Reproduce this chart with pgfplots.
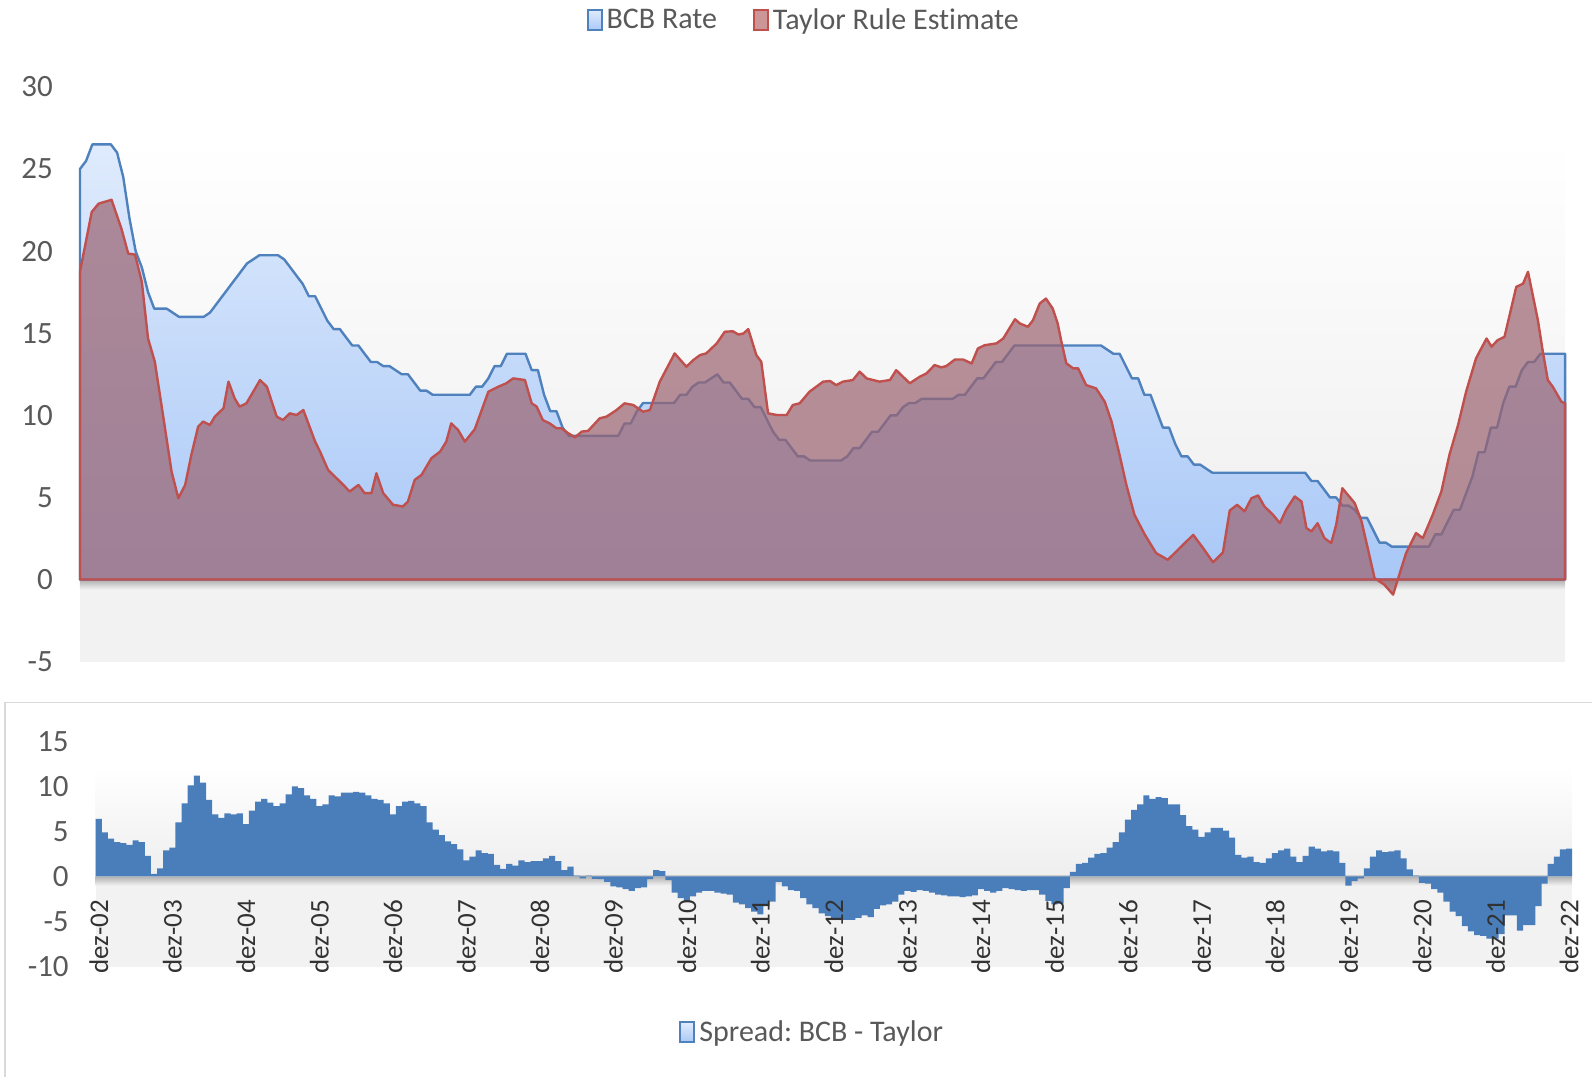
\documentclass[border=0pt]{standalone}
\usepackage{fontspec}
\setmainfont{Carlito}[Ligatures=CommonOff]
\usepackage{pgfplots}
\pgfplotsset{compat=1.18}
\usepgfplotslibrary{fillbetween}
\usepackage{pgfplotstable}
\frenchspacing

\definecolor{blueLine}{RGB}{79,129,189}
\definecolor{redLine}{RGB}{192,80,77}
\definecolor{blueTop}{RGB}{223,235,253}
\definecolor{blueBot}{RGB}{169,200,247}
\definecolor{purp}{RGB}{155,98,111}
\definecolor{brownR}{RGB}{177,123,117}
\definecolor{barBlue}{RGB}{74,126,187}
\definecolor{txt}{RGB}{89,89,89}
\definecolor{txtx}{RGB}{50,50,50}
\definecolor{panelBot}{RGB}{238,238,238}
\definecolor{floorGray}{RGB}{242,242,242}
\definecolor{borderGray}{RGB}{217,217,217}
\definecolor{redMark}{RGB}{205,150,150}

% BCB (Selic) rate, month index 0 = dez-02
\pgfplotstableread[row sep=\\]{
m v\\
0 25\\ 1 25.5\\ 2 26.5\\ 3 26.5\\ 4 26.5\\ 5 26.5\\ 6 26\\ 7 24.5\\ 8 22\\ 9 20\\ 10 19\\ 11 17.5\\
12 16.5\\ 13 16.5\\ 14 16.5\\ 15 16.25\\ 16 16\\ 17 16\\ 18 16\\ 19 16\\ 20 16\\ 21 16.25\\ 22 16.75\\ 23 17.25\\
24 17.75\\ 25 18.25\\ 26 18.75\\ 27 19.25\\ 28 19.5\\ 29 19.75\\ 30 19.75\\ 31 19.75\\ 32 19.75\\ 33 19.5\\ 34 19\\ 35 18.5\\
36 18\\ 37 17.25\\ 38 17.25\\ 39 16.5\\ 40 15.75\\ 41 15.25\\ 42 15.25\\ 43 14.75\\ 44 14.25\\ 45 14.25\\ 46 13.75\\ 47 13.25\\
48 13.25\\ 49 13\\ 50 13\\ 51 12.75\\ 52 12.5\\ 53 12.5\\ 54 12\\ 55 11.5\\ 56 11.5\\ 57 11.25\\ 58 11.25\\ 59 11.25\\
60 11.25\\ 61 11.25\\ 62 11.25\\ 63 11.25\\ 64 11.75\\ 65 11.75\\ 66 12.25\\ 67 13\\ 68 13\\ 69 13.75\\ 70 13.75\\ 71 13.75\\
72 13.75\\ 73 12.75\\ 74 12.75\\ 75 11.25\\ 76 10.25\\ 77 10.25\\ 78 9.25\\ 79 8.75\\ 80 8.75\\ 81 8.75\\ 82 8.75\\ 83 8.75\\
84 8.75\\ 85 8.75\\ 86 8.75\\ 87 8.75\\ 88 9.5\\ 89 9.5\\ 90 10.25\\ 91 10.75\\ 92 10.75\\ 93 10.75\\ 94 10.75\\ 95 10.75\\
96 10.75\\ 97 11.25\\ 98 11.25\\ 99 11.75\\ 100 12\\ 101 12\\ 102 12.25\\ 103 12.5\\ 104 12\\ 105 12\\ 106 11.5\\ 107 11\\
108 11\\ 109 10.5\\ 110 10.5\\ 111 9.75\\ 112 9\\ 113 8.5\\ 114 8.5\\ 115 8\\ 116 7.5\\ 117 7.5\\ 118 7.25\\ 119 7.25\\
120 7.25\\ 121 7.25\\ 122 7.25\\ 123 7.25\\ 124 7.5\\ 125 8\\ 126 8\\ 127 8.5\\ 128 9\\ 129 9\\ 130 9.5\\ 131 10\\
132 10\\ 133 10.5\\ 134 10.75\\ 135 10.75\\ 136 11\\ 137 11\\ 138 11\\ 139 11\\ 140 11\\ 141 11\\ 142 11.25\\ 143 11.25\\
144 11.75\\ 145 12.25\\ 146 12.25\\ 147 12.75\\ 148 13.25\\ 149 13.25\\ 150 13.75\\ 151 14.25\\ 152 14.25\\ 153 14.25\\ 154 14.25\\ 155 14.25\\
156 14.25\\ 157 14.25\\ 158 14.25\\ 159 14.25\\ 160 14.25\\ 161 14.25\\ 162 14.25\\ 163 14.25\\ 164 14.25\\ 165 14.25\\ 166 14\\ 167 13.75\\
168 13.75\\ 169 13\\ 170 12.25\\ 171 12.25\\ 172 11.25\\ 173 11.25\\ 174 10.25\\ 175 9.25\\ 176 9.25\\ 177 8.25\\ 178 7.5\\ 179 7.5\\
180 7\\ 181 7\\ 182 6.75\\ 183 6.5\\ 184 6.5\\ 185 6.5\\ 186 6.5\\ 187 6.5\\ 188 6.5\\ 189 6.5\\ 190 6.5\\ 191 6.5\\
192 6.5\\ 193 6.5\\ 194 6.5\\ 195 6.5\\ 196 6.5\\ 197 6.5\\ 198 6.5\\ 199 6\\ 200 6\\ 201 5.5\\ 202 5\\ 203 5\\
204 4.5\\ 205 4.5\\ 206 4.25\\ 207 3.75\\ 208 3.75\\ 209 3\\ 210 2.25\\ 211 2.25\\ 212 2\\ 213 2\\ 214 2\\ 215 2\\
216 2\\ 217 2\\ 218 2\\ 219 2.75\\ 220 2.75\\ 221 3.5\\ 222 4.25\\ 223 4.25\\ 224 5.25\\ 225 6.25\\ 226 7.75\\ 227 7.75\\
228 9.25\\ 229 9.25\\ 230 10.75\\ 231 11.75\\ 232 11.75\\ 233 12.75\\ 234 13.25\\ 235 13.25\\ 236 13.75\\ 237 13.75\\ 238 13.75\\ 239 13.75\\
240 13.75\\
}\bcb

% Taylor rule estimate
\pgfplotstableread[row sep=\\]{
m v\\
0 18.74\\ 1.9 22.38\\ 3.0 22.89\\ 4.8 23.09\\ 5.1 23.13\\ 6.7 21.37\\ 7.8 19.85\\ 8.9 19.79\\ 10.0 18.13\\ 11.0 14.68\\
12.1 13.26\\ 13.5 9.82\\ 14.8 6.58\\ 15.9 4.95\\ 17.0 5.76\\ 18.0 7.59\\ 19.1 9.31\\ 19.9 9.62\\ 21.0 9.41\\ 21.8 9.92\\
23.2 10.43\\ 24.0 12.05\\ 25.0 11.03\\ 25.8 10.53\\ 26.9 10.73\\ 29.1 12.15\\ 30.2 11.74\\ 31.8 9.92\\ 32.8 9.71\\ 33.9 10.12\\
35.0 10.02\\ 36.1 10.32\\ 38.0 8.40\\ 38.8 7.79\\ 40.1 6.67\\ 42.0 5.97\\ 43.6 5.36\\ 45.0 5.76\\ 46.0 5.26\\ 47.1 5.26\\
47.9 6.47\\ 49.0 5.26\\ 50.6 4.55\\ 52.2 4.45\\ 53.0 4.75\\ 54.1 6.07\\ 55.2 6.37\\ 56.8 7.39\\ 58.2 7.79\\ 59.2 8.40\\
60.0 9.51\\ 61.1 9.11\\ 62.2 8.40\\ 63.8 9.15\\ 66.0 11.44\\ 67.6 11.74\\ 68.9 11.95\\ 70.0 12.25\\ 71.9 12.15\\ 73.0 10.73\\
73.8 10.53\\ 74.8 9.71\\ 75.9 9.51\\ 77.0 9.21\\ 77.8 9.21\\ 78.9 8.91\\ 80.0 8.66\\ 81.1 9.01\\ 82.1 9.05\\ 84.0 9.82\\
85.1 9.92\\ 86.7 10.32\\ 88.0 10.73\\ 89.4 10.63\\ 91.0 10.22\\ 92.1 10.32\\ 93.7 12.05\\ 96.1 13.77\\ 98.0 12.96\\ 99.1 13.36\\
100.2 13.67\\ 101.2 13.77\\ 102.9 14.38\\ 104.2 15.09\\ 105.5 15.12\\ 106.4 14.92\\ 107.2 14.98\\ 108.0 15.25\\ 109.3 13.67\\ 110.1 13.26\\
111.2 10.12\\ 112.6 10.02\\ 114.2 10.02\\ 115.2 10.63\\ 116.3 10.73\\ 117.9 11.44\\ 120.1 12.05\\ 121.2 12.09\\ 122.2 11.84\\ 123.3 12.05\\
124.9 12.15\\ 126.0 12.66\\ 127.1 12.25\\ 129.2 12.05\\ 130.9 12.15\\ 131.9 12.75\\ 134.1 11.95\\ 135.7 12.35\\ 136.8 12.55\\ 138.1 13.06\\
139.2 12.92\\ 140.0 13.00\\ 141.4 13.40\\ 142.7 13.40\\ 144.1 13.16\\ 145.1 14.07\\ 146.2 14.27\\ 148.1 14.38\\ 149.2 14.68\\ 151.1 15.85\\
151.9 15.59\\ 153.2 15.39\\ 154.0 15.79\\ 155.1 16.81\\ 156.1 17.11\\ 157.2 16.50\\ 158.0 15.59\\ 158.6 14.48\\ 159.4 13.16\\ 160.5 12.86\\
161.3 12.86\\ 162.6 11.84\\ 164.2 11.64\\ 165.6 10.83\\ 166.7 9.62\\ 168.0 7.59\\ 169.1 5.76\\ 170.4 3.94\\ 172.1 2.72\\ 173.9 1.61\\
175.8 1.20\\ 177.7 1.91\\ 179.9 2.72\\ 181.5 1.91\\ 183.1 1.05\\ 184.7 1.65\\ 185.8 4.20\\ 187.0 4.55\\ 188.2 4.15\\ 189.3 4.95\\
190.4 5.12\\ 191.4 4.45\\ 192.8 3.94\\ 193.9 3.43\\ 194.9 4.24\\ 196.3 5.06\\ 197.4 4.75\\ 198.2 3.13\\ 199.0 2.93\\ 200.0 3.43\\
201.1 2.52\\ 202.2 2.22\\ 203.0 3.33\\ 204.0 5.56\\ 204.9 5.15\\ 206.0 4.65\\ 207.1 3.54\\ 208.1 1.91\\ 209.2 0.09\\ 210.8 -0.32\\
212.2 -0.92\\ 213.2 0.29\\ 214.3 1.61\\ 215.9 2.83\\ 217.0 2.52\\ 218.6 3.94\\ 220.0 5.36\\ 221.3 7.59\\ 222.7 9.41\\ 224.0 11.44\\
225.6 13.47\\ 227.3 14.68\\ 228.1 14.18\\ 229.1 14.58\\ 230.2 14.78\\ 232.1 17.82\\ 233.2 18.02\\ 234.0 18.74\\ 235.6 15.79\\ 236.4 13.87\\
237.2 12.15\\ 238.0 11.74\\ 239.4 10.83\\ 240.0 10.73\\
}\taylor

% Spread BCB - Taylor, monthly
\pgfplotstableread[row sep=\\]{
m v\\
0 6.4\\ 1 4.9\\ 2 4.2\\ 3 3.8\\ 4 3.7\\ 5 3.5\\ 6 4.0\\ 7 3.8\\ 8 2.3\\ 9 0.3\\ 10 0.9\\ 11 2.9\\
12 3.2\\ 13 6.0\\ 14 8.1\\ 15 10.1\\ 16 11.2\\ 17 10.4\\ 18 8.5\\ 19 6.9\\ 20 6.5\\ 21 7.0\\ 22 6.9\\ 23 7.0\\
24 5.8\\ 25 7.3\\ 26 8.3\\ 27 8.6\\ 28 8.2\\ 29 7.8\\ 30 8.1\\ 31 9.1\\ 32 10.0\\ 33 9.8\\ 34 9.0\\ 35 8.6\\
36 7.8\\ 37 8.0\\ 38 9.0\\ 39 8.9\\ 40 9.3\\ 41 9.3\\ 42 9.4\\ 43 9.3\\ 44 9.0\\ 45 8.6\\ 46 8.5\\ 47 8.1\\
48 6.9\\ 49 7.8\\ 50 8.3\\ 51 8.4\\ 52 8.1\\ 53 7.8\\ 54 6.0\\ 55 5.2\\ 56 4.6\\ 57 3.9\\ 58 3.6\\ 59 3.0\\
60 1.8\\ 61 2.2\\ 62 2.9\\ 63 2.6\\ 64 2.5\\ 65 1.3\\ 66 0.85\\ 67 1.4\\ 68 1.2\\ 69 1.8\\ 70 1.6\\ 71 1.7\\
72 1.7\\ 73 2.0\\ 74 2.3\\ 75 1.7\\ 76 0.7\\ 77 1.1\\ 78 0.1\\ 79 -0.2\\ 80 0.1\\ 81 -0.25\\ 82 -0.3\\ 83 -0.6\\
84 -1.1\\ 85 -1.2\\ 86 -1.4\\ 87 -1.6\\ 88 -1.3\\ 89 -1.2\\ 90 -0.3\\ 91 0.7\\ 92 0.6\\ 93 -0.4\\ 94 -1.8\\ 95 -2.4\\
96 -2.8\\ 97 -2.2\\ 98 -1.8\\ 99 -1.6\\ 100 -1.6\\ 101 -1.8\\ 102 -1.9\\ 103 -2.0\\ 104 -2.9\\ 105 -3.1\\ 106 -3.5\\ 107 -3.9\\
108 -4.2\\ 109 -3.3\\ 110 -2.8\\ 111 -0.6\\ 112 -1.1\\ 113 -1.5\\ 114 -1.6\\ 115 -2.4\\ 116 -3.1\\ 117 -3.5\\ 118 -4.1\\ 119 -4.4\\
120 -4.7\\ 121 -4.8\\ 122 -4.8\\ 123 -4.8\\ 124 -4.6\\ 125 -4.3\\ 126 -4.5\\ 127 -3.6\\ 128 -3.2\\ 129 -3.1\\ 130 -2.8\\ 131 -2.0\\
132 -1.6\\ 133 -1.7\\ 134 -1.5\\ 135 -1.6\\ 136 -1.8\\ 137 -2.0\\ 138 -2.1\\ 139 -2.2\\ 140 -2.2\\ 141 -2.3\\ 142 -2.2\\ 143 -2.1\\
144 -1.4\\ 145 -1.6\\ 146 -1.8\\ 147 -1.6\\ 148 -1.3\\ 149 -1.4\\ 150 -1.5\\ 151 -1.6\\ 152 -1.5\\ 153 -1.5\\ 154 -2.0\\ 155 -2.7\\
156 -3.1\\ 157 -3.0\\ 158 -1.3\\ 159 0.5\\ 160 1.4\\ 161 1.5\\ 162 2.1\\ 163 2.5\\ 164 2.6\\ 165 3.2\\ 166 3.8\\ 167 4.9\\
168 6.3\\ 169 7.4\\ 170 8.0\\ 171 9.0\\ 172 8.6\\ 173 8.8\\ 174 8.7\\ 175 8.0\\ 176 8.0\\ 177 6.8\\ 178 5.6\\ 179 5.2\\
180 4.4\\ 181 4.9\\ 182 5.4\\ 183 5.4\\ 184 5.1\\ 185 4.3\\ 186 2.4\\ 187 2.1\\ 188 2.2\\ 189 1.6\\ 190 1.5\\ 191 2.0\\
192 2.6\\ 193 2.9\\ 194 3.1\\ 195 2.2\\ 196 1.6\\ 197 2.3\\ 198 3.3\\ 199 3.1\\ 200 2.8\\ 201 2.9\\ 202 2.8\\ 203 1.5\\
204 -1.0\\ 205 -0.5\\ 206 -0.2\\ 207 0.9\\ 208 2.2\\ 209 2.9\\ 210 2.7\\ 211 2.8\\ 212 2.9\\ 213 2.0\\ 214 0.8\\ 215 0.1\\
216 -0.7\\ 217 -0.8\\ 218 -1.4\\ 219 -1.8\\ 220 -2.8\\ 221 -3.9\\ 222 -4.4\\ 223 -5.5\\ 224 -6.1\\ 225 -6.5\\ 226 -6.6\\ 227 -6.9\\
228 -6.9\\ 229 -6.4\\ 230 -4.3\\ 231 -4.3\\ 232 -6.0\\ 233 -5.4\\ 234 -5.4\\ 235 -3.3\\ 236 -0.8\\ 237 1.4\\ 238 2.2\\ 239 3.0\\
240 3.1\\
}\spread

\begin{document}
\begin{tikzpicture}
\path (0,0) rectangle (796.5pt,539pt);
\draw[borderGray, line width=0.9pt] (2.5pt,0pt) -- (2.5pt,187.5pt) -- (796.5pt,187.5pt);

% ---------------- top chart ----------------
\begin{axis}[
  at={(40pt,208pt)}, anchor=south west, scale only axis,
  width=743pt, height=287.5pt,
  xmin=0, xmax=240, ymin=-5, ymax=30,
  clip=false,
  axis line style={draw=none}, tick style={draw=none},
  xtick=\empty, ytick={-5,0,...,30},
  /pgf/number format/assume math mode=true,
  yticklabel style={font=\fontsize{15.5}{18}\selectfont, text=txt, xshift=-10pt},
  legend style={at={(0.488,1.116)}, anchor=center, draw=none, fill=none,
    font=\fontsize{15}{18}\selectfont, text=txt, legend columns=2,
    /tikz/every even column/.append style={column sep=16pt}},
]
\fill[floorGray] (axis cs:0,-5) rectangle (axis cs:240,0);
\fill[top color=white, bottom color=panelBot] (axis cs:0,0) rectangle (axis cs:240,26.8);
\fill[top color=black!32, bottom color=floorGray] (axis cs:0,0) rectangle (axis cs:240,-0.6);

\addplot[forget plot, draw=blueLine, line width=1.2pt, line join=round, top color=blueTop, bottom color=blueBot] table {\bcb} \closedcycle;
\addplot[forget plot, draw=none, fill=purp, fill opacity=0.7] table {\taylor} \closedcycle;
\addplot[forget plot, draw=none, name path=bl] table {\bcb};
\addplot[forget plot, draw=none, name path=rd] table {\taylor};
\path[name path=zr] (axis cs:0,0) -- (axis cs:240,0);
\addplot[forget plot, draw=none, fill=brownR, fill opacity=0.85] fill between[of=bl and rd, split,
   every even segment/.style={fill=none}];
\addplot[forget plot, draw=none, fill=brownR, fill opacity=0.85] fill between[of=rd and zr, soft clip={domain=209.55:212.96}];
\addplot[forget plot, draw=redLine, line width=1.2pt, line join=round] table {\taylor} \closedcycle;

\addlegendimage{legend image code/.code={\draw[draw=blueLine, line width=1pt, top color=blueTop, bottom color=blueBot] (0pt,-5pt) rectangle (7pt,5pt);}}
\addlegendentry{BCB Rate}
\addlegendimage{legend image code/.code={\draw[draw=redLine, line width=1pt, fill=redMark] (0pt,-5pt) rectangle (7pt,5pt);}}
\addlegendentry{Taylor Rule Estimate}
\end{axis}

% ---------------- bottom chart ----------------
\begin{axis}[
  at={(47.9pt,55.4pt)}, anchor=south west, scale only axis,
  width=738.6pt, height=112.75pt,
  xmin=-0.5, xmax=240.5, ymin=-10, ymax=15,
  clip=false, axis on top,
  axis line style={draw=none}, tick style={draw=none},
  ytick={-10,-5,...,15},
  xtick={0,12,...,240},
  xticklabels={dez-02,dez-03,dez-04,dez-05,dez-06,dez-07,dez-08,dez-09,dez-10,dez-11,dez-12,dez-13,dez-14,dez-15,dez-16,dez-17,dez-18,dez-19,dez-20,dez-21,dez-22},
  xticklabel style={rotate=90, anchor=west, font=\fontsize{13.5}{16}\selectfont, text=txtx},
  xticklabel shift=7pt,
  /pgf/number format/assume math mode=true,
  yticklabel style={font=\fontsize{15.5}{18}\selectfont, text=txt, xshift=-10pt},
  legend style={at={(0.486,-0.292)}, anchor=center, draw=none, fill=none,
    font=\fontsize{15}{18}\selectfont, text=txt},
]
\fill[floorGray] (axis cs:-0.5,-10) rectangle (axis cs:240.5,0);
\fill[top color=white, bottom color=panelBot] (axis cs:-0.5,0) rectangle (axis cs:240.5,12.2);
\fill[top color=black!30, bottom color=floorGray] (axis cs:-0.5,0) rectangle (axis cs:240.5,-1.0);
\draw[black!20, line width=1pt] (axis cs:-0.5,0) -- (axis cs:240.5,0);
\addplot[forget plot, ybar, bar width=1, fill=barBlue, draw=none] table {\spread};
\addlegendimage{legend image code/.code={\draw[draw=blueLine, line width=1pt, top color=blueTop, bottom color=blueBot] (0pt,-5pt) rectangle (7pt,5pt);}}
\addlegendentry{Spread: BCB - Taylor}
\end{axis}
\end{tikzpicture}
\end{document}
